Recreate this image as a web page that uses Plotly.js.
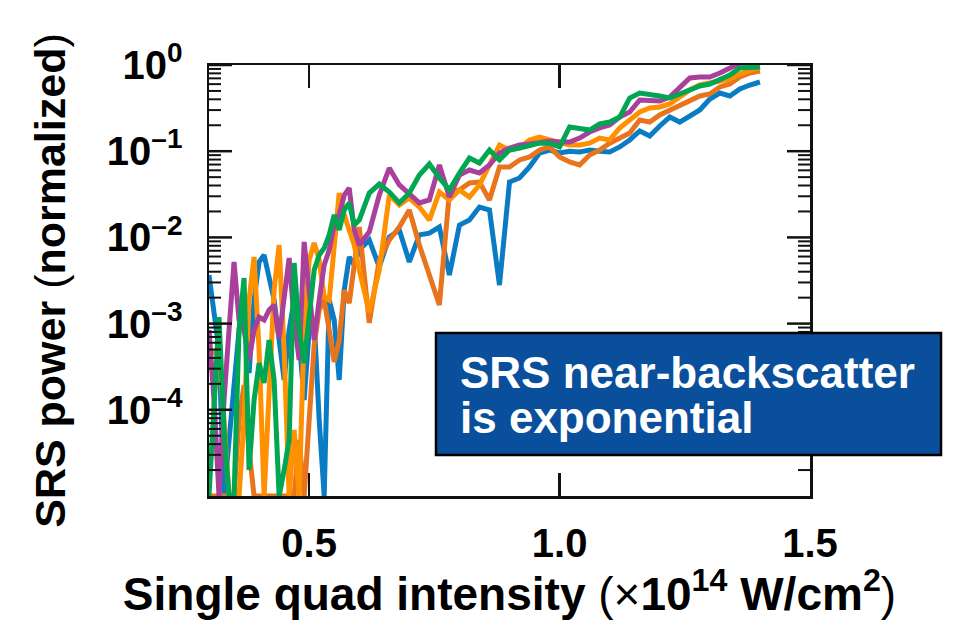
<!DOCTYPE html>
<html><head><meta charset="utf-8">
<script src="https://cdn.plot.ly/plotly-3.0.1.min.js"></script>
<style>html,body{margin:0;padding:0;background:#fff}#chart{width:957px;height:620px}</style>
</head><body><div id="chart"></div>
<script>
// Single quad intensity (x10^14 W/cm^2)
const intensity = [0.30,0.31,0.32,0.33,0.34,0.35,0.36,0.37,0.38,0.39,
  0.40,0.41,0.42,0.43,0.44,0.45,0.46,0.47,0.48,0.49,
  0.50,0.51,0.52,0.53,0.54,0.55,0.56,0.57,0.58,0.59,0.60,
  0.62,0.64,0.66,0.68,0.70,0.72,0.74,0.76,0.78,0.80,
  0.82,0.84,0.86,0.88,0.90,0.92,0.94,0.96,0.98,1.00,
  1.02,1.04,1.06,1.08,1.10,1.12,1.14,1.16,1.18,1.20,
  1.22,1.24,1.26,1.28,1.30,1.32,1.34,1.36,1.38,1.40];

// SRS power (normalized), one array per series
const srsBlue = [0.00366,0.00144,0.000494,1e-5,4.47e-5,1.70e-4,8.43e-4,1.88e-3,2.67e-4,1.88e-3,
  5.19e-3,6.25e-3,3.66e-3,1.88e-3,6.45e-4,2.22e-4,8.43e-4,1.88e-3,6.45e-4,1.30e-4,
  8.43e-4,1.10e-3,7.62e-5,1e-5,1.88e-3,1.10e-3,2.22e-4,2.45e-3,5.93e-3,4.79e-3,7.14e-3,
  9.33e-3,4.54e-3,1.01e-2,1.22e-2,5.19e-3,1.07e-2,1.12e-2,1.32e-2,3.66e-3,1.39e-2,
  1.59e-2,2.25e-2,2.08e-2,2.80e-3,4.39e-2,4.89e-2,6.56e-2,9.53e-2,0.103,0.0953,
  0.100,0.098,0.103,0.100,0.098,0.112,0.135,0.172,0.150,0.196,
  0.249,0.218,0.256,0.301,0.403,0.473,0.437,0.527,0.586,0.635];

const srsDarkOrange = [1e-5,1e-5,1e-5,1e-5,1e-5,1e-5,7.62e-5,1.94e-4,3.42e-5,1e-5,
  1e-5,1e-5,1e-5,1e-5,1e-5,1e-5,1e-5,1e-5,4.47e-5,1e-5,
  7.62e-5,5.65e-4,1.44e-3,1.88e-3,8.43e-4,3.59e-4,6.45e-4,2.45e-3,1.73e-3,5.47e-3,1.32e-2,
  1.02e-3,5.47e-3,9.33e-3,1.32e-2,2.08e-2,8.16e-3,3.66e-3,1.64e-3,3.36e-2,3.55e-2,
  4.28e-2,4.39e-2,2.72e-2,6.56e-2,6.56e-2,7.91e-2,8.57e-2,0.103,0.112,8.57e-2,
  7.49e-2,6.92e-2,9.04e-2,0.103,0.124,0.142,0.163,0.230,0.218,0.263,
  0.301,0.334,0.393,0.437,0.461,0.556,0.602,0.726,0.808,0.852];

const srsOrange = [4.32e-4,4.69e-4,4.94e-4,7.62e-5,1e-5,1e-5,1e-5,7.62e-5,1.88e-3,5.93e-3,
  4.94e-4,1e-5,2.22e-4,2.45e-3,8.16e-3,4.94e-4,1e-5,5.83e-5,1e-5,8.43e-4,
  5.47e-3,8.61e-3,5.47e-3,2.04e-3,1.88e-3,9.33e-3,3.27e-2,1.82e-2,1.22e-2,8.16e-3,4.19e-3,
  1.36e-3,4.19e-3,3.10e-2,2.38e-2,2.86e-2,2.25e-2,1.59e-2,3.36e-2,2.72e-2,3.55e-2,
  2.94e-2,4.06e-2,6.92e-2,0.118,0.103,0.109,0.135,0.146,0.135,0.128,
  0.118,0.118,0.124,0.142,0.135,0.186,0.230,0.285,0.317,0.326,
  0.353,0.425,0.513,0.586,0.618,0.635,0.688,0.787,0.875,0.948];

const srsPurple = [8.43e-4,1.30e-4,1e-5,1.30e-4,8.43e-4,5.19e-3,1.10e-3,8.43e-4,3.78e-4,8.43e-4,
  1.19e-3,1.10e-3,1.44e-3,1.64e-3,6.81e-4,1.88e-3,5.77e-3,1.10e-3,3.78e-4,8.85e-3,
  2.45e-3,6.45e-4,1.88e-3,4.79e-3,7.14e-3,1.39e-2,1.82e-2,3.10e-2,3.74e-2,1.22e-2,8.16e-3,
  1.16e-2,3.10e-2,6.38e-2,4.06e-2,3.19e-2,2.51e-2,2.72e-2,6.92e-2,2.94e-2,5.30e-2,
  6.05e-2,5.58e-2,6.92e-2,9.53e-2,0.109,0.118,0.121,0.128,0.131,0.128,
  0.128,0.142,0.167,0.186,0.201,0.249,0.285,0.393,0.393,0.382,
  0.425,0.541,0.707,0.726,0.726,0.808,0.923,1.05,1.05,1.05];

const srsGreen = [1e-5,1.30e-4,1.19e-3,5.83e-5,1e-5,1e-5,8.43e-4,3.38e-3,2.0e-5,1.30e-4,
  3.49e-4,2.05e-4,6.45e-4,2.22e-4,1e-5,2.0e-5,4.47e-5,5.05e-3,8.43e-4,3.49e-4,
  1.44e-3,4.19e-3,6.25e-3,7.53e-3,1.07e-2,1.82e-2,1.22e-2,2.08e-2,2.51e-2,1.39e-2,1.59e-2,
  3.27e-2,4.16e-2,3.36e-2,2.51e-2,3.27e-2,5.30e-2,7.11e-2,4.89e-2,3.55e-2,5.58e-2,
  8.34e-2,7.30e-2,0.103,7.91e-2,0.103,0.109,0.118,0.124,0.124,0.112,
  0.191,0.186,0.176,0.207,0.218,0.249,0.414,0.473,0.461,0.437,
  0.414,0.461,0.527,0.571,0.602,0.688,0.766,0.923,0.923,0.948];

const seriesList = [srsBlue, srsDarkOrange, srsOrange, srsPurple, srsGreen];
const seriesNames = ['Series 1','Series 2','Series 3','Series 4','Series 5'];
const seriesColors = ['#0a7cc4','#e8741e','#ff9000','#a8409c','#00a651'];

const yTickVals = [1, 0.1, 0.01, 0.001, 0.0001];
const yTickText = ['10<sup>0</sup>\u2009\u2009','10<sup>–1</sup>\u2009\u2009','10<sup>–2</sup>\u2009\u2009','10<sup>–3</sup>\u2009\u2009','10<sup>–4</sup>\u2009\u2009'];
const xTickVals = [0.5, 1.0, 1.5];
const xTickText = ['0.5','1.0','1.5'];

const FONT = 'Liberation Sans, Arial, Helvetica, sans-serif';
const INK = '#111';
const Y_RANGE = [-5, 0];           // log10 range of the y axis
const PLOT_W = 957 - 209 - 147;    // plot-area width in px

// minor log tick positions (2..9 in every decade of the axis range)
const yMinorVals = [];
for (let d = Y_RANGE[0]; d < Y_RANGE[1]; d++) for (let m = 2; m <= 9; m++) yMinorVals.push(m * Math.pow(10, d));

// y tick marks (major + minor, inside, on both the left and the mirrored right side)
function tickShapes(vals, lenPx, width) {
  const out = [];
  vals.forEach(v => {
    const yp = (Math.log10(v) - Y_RANGE[0]) / (Y_RANGE[1] - Y_RANGE[0]);
    const lx = lenPx / PLOT_W;
    out.push({type: 'line', xref: 'paper', yref: 'paper', layer: 'above', x0: 0, x1: lx, y0: yp, y1: yp, line: {color: INK, width: width}});
    out.push({type: 'line', xref: 'paper', yref: 'paper', layer: 'above', x0: 1 - lx, x1: 1, y0: yp, y1: yp, line: {color: INK, width: width}});
  });
  return out;
}

const traces = seriesList.map((ys, i) => ({
  type: 'scatter', mode: 'lines', x: intensity, y: ys, name: seriesNames[i],
  line: {color: seriesColors[i], width: 5, shape: 'linear'}
}));

const calloutBox = {
  type: 'rect', xref: 'paper', yref: 'paper', layer: 'above',
  x0: (436 - 209) / PLOT_W, x1: (941 - 209) / PLOT_W,
  y0: (496 - 455) / 431, y1: (496 - 333) / 431,
  fillcolor: '#0a4f9c', line: {color: '#000', width: 2.5}
};

const layout = {
  width: 957, height: 620,
  margin: {l: 209, r: 147, t: 65, b: 124, pad: 0},
  paper_bgcolor: '#fff', plot_bgcolor: '#fff',
  showlegend: false,
  font: {family: FONT, color: '#000', size: 40, weight: 700},
  xaxis: {
    range: [0.3, 1.5], tickvals: xTickVals, ticktext: xTickText,
    ticks: 'inside', ticklen: 23, tickwidth: 2.5, tickcolor: INK,
    showline: true, linecolor: INK, linewidth: 2.5, mirror: 'ticks',
    showgrid: false, zeroline: false,
    tickfont: {family: FONT, size: 40, weight: 700, color: '#000'},
    ticklabelstandoff: 10,
    title: {text: 'Single quad intensity <span style="font-weight:normal">(×</span>10<sup>14</sup> W/cm<sup>2</sup><span style="font-weight:normal">)</span>',
      font: {family: FONT, size: 46, weight: 700, color: '#000'}, standoff: 8}
  },
  yaxis: {
    type: 'log', range: Y_RANGE, tickmode: 'array', tickvals: yTickVals, ticktext: yTickText,
    ticks: '', showline: true, linecolor: INK, linewidth: 2.5, mirror: true,
    showgrid: false, zeroline: false,
    tickfont: {family: FONT, size: 40, weight: 700, color: '#000'},
    title: {text: 'SRS power <span style="font-weight:normal">(</span>normalized<span style="font-weight:normal">)</span>',
      font: {family: FONT, size: 43, weight: 700, color: '#000'}, standoff: 28}
  },
  shapes: [].concat(tickShapes(yTickVals, 23, 2.5), tickShapes(yMinorVals, 12, 2), [calloutBox]),
  annotations: [
    {xref: 'paper', yref: 'paper', x: (458 - 209) / PLOT_W, y: (496 - 372) / 431,
     xanchor: 'left', yanchor: 'middle', showarrow: false, align: 'left',
     text: 'SRS near-backscatter', font: {family: FONT, size: 44, weight: 700, color: '#fff'}},
    {xref: 'paper', yref: 'paper', x: (458 - 209) / PLOT_W, y: (496 - 417) / 431,
     xanchor: 'left', yanchor: 'middle', showarrow: false, align: 'left',
     text: 'is exponential', font: {family: FONT, size: 44, weight: 700, color: '#fff'}}
  ]
};

Plotly.newPlot('chart', traces, layout, {displayModeBar: false, staticPlot: true});
</script>
</body></html>
